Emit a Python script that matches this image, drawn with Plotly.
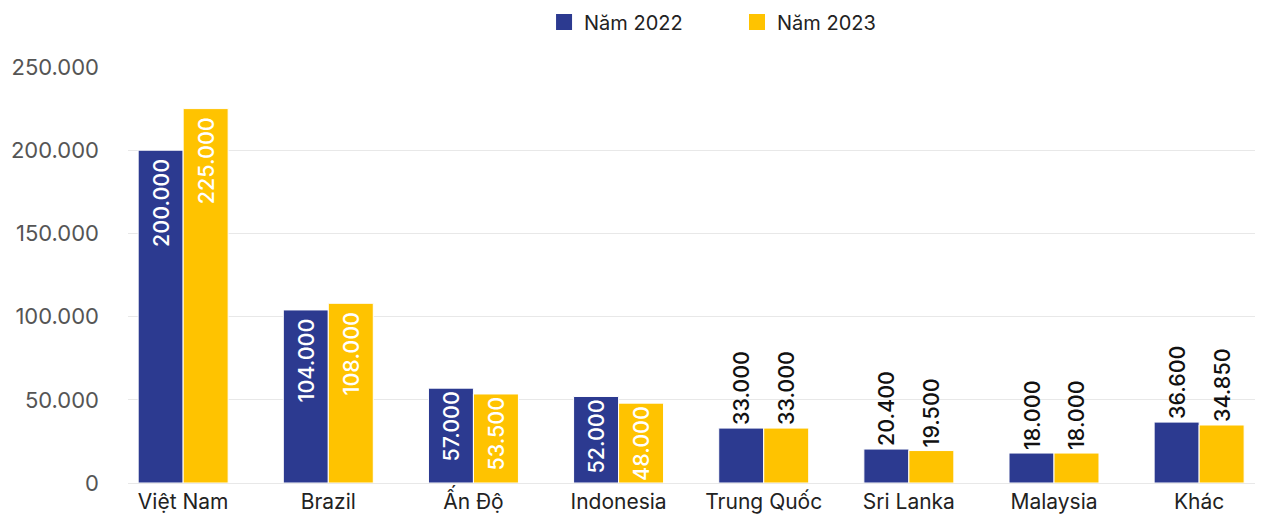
import plotly.graph_objects as go

categories = ["Việt Nam", "Brazil", "Ấn Độ", "Indonesia", "Trung Quốc", "Sri Lanka", "Malaysia", "Khác"]
values_2022 = [200000, 104000, 57000, 52000, 33000, 20400, 18000, 36600]
values_2023 = [225000, 108000, 53500, 48000, 33000, 19500, 18000, 34850]
series_names = ["Năm 2022", "Năm 2023"]
y_ticks = [0, 50000, 100000, 150000, 200000, 250000]

pos = ["inside"] * 4 + ["outside"] * 4
tmpl = ["%{y:,}\u00a0"] * 2 + ["%{y:,}"] * 6
FONT = "Inter"
colors = ["#2C3A90", "#FFC300"]

fig = go.Figure()
for name, vals, color in [(series_names[0], values_2022, colors[0]),
                          (series_names[1], values_2023, colors[1])]:
    fig.add_trace(go.Bar(
        name=name, x=categories, y=vals, showlegend=False,
        marker=dict(color=color, line=dict(color="white", width=1)),
        texttemplate=tmpl, textposition=pos, textangle=-90,
        insidetextanchor="end", constraintext="none",
        insidetextfont=dict(color="white", size=21.5, family=FONT, weight=500),
        outsidetextfont=dict(color="#111111", size=21.5, family=FONT, weight=500),
        cliponaxis=False,
    ))
# legend entries with larger square symbols, one legend per series
for name, color, lg in zip(series_names, colors, ["legend", "legend2"]):
    fig.add_trace(go.Scatter(
        name=name, x=[None], y=[None], mode="markers", legend=lg,
        marker=dict(symbol="square", size=16, color=color),
    ))

leg_common = dict(orientation="h", xanchor="center", y=1.108, yanchor="middle",
                  font=dict(size=20, color="#222222"), itemwidth=30)

fig.update_layout(
    width=1255, height=513,
    margin=dict(l=120, r=0, t=59, b=38, autoexpand=False),
    paper_bgcolor="white", plot_bgcolor="white",
    separators=",.",
    barmode="group", bargap=0.38, bargroupgap=0.0,
    font=dict(family=FONT, size=20, color="#222222"),
    legend=dict(x=0.430, **leg_common),
    legend2=dict(x=0.600, **leg_common),
    xaxis=dict(range=[-0.38, 7.44], showgrid=False, showline=False, ticks="",
               tickfont=dict(size=21, color="#222222"), ticklabelstandoff=4),
    yaxis=dict(range=[0, 250000], tickvals=y_ticks, tickformat=",",
               showgrid=True, gridcolor="#E8E8E8", gridwidth=1,
               zeroline=True, zerolinecolor="#E8E8E8", zerolinewidth=1,
               tickfont=dict(size=22, color="#555555"), ticklabelstandoff=28),
)

fig.write_html("out.html")
